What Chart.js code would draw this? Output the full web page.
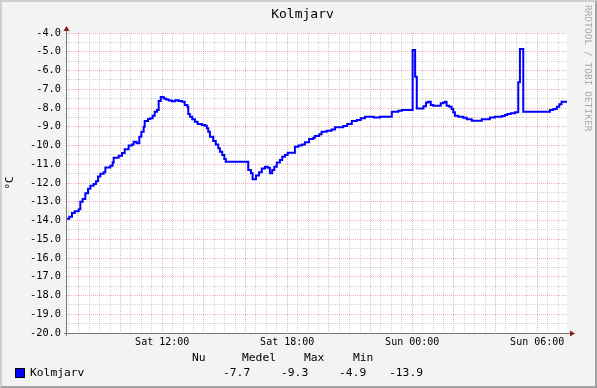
<!DOCTYPE html>
<html>
<head>
<meta charset="utf-8">
<script src="https://cdn.jsdelivr.net/npm/chart.js@4.4.1/dist/chart.umd.min.js"></script>
<style>
  html, body { margin: 0; padding: 0; }
  #wrap {
    position: relative; width: 597px; height: 388px; box-sizing: border-box;
    background: #f3f3f3; font-family: "DejaVu Sans Mono", monospace; color: #000;
    border-top: 2px solid #cfcfcf; border-left: 2px solid #cfcfcf;
    border-right: 2px solid #a3a3a3; border-bottom: 2px solid #a3a3a3;
  }
  #temp-chart { position: absolute; left: -2px; top: -2px; }
  #title { position: absolute; left: 0; width: 601px; top: 4px; text-align: center; font-size: 13px; }
  #credit {
    position: absolute; left: 581px; top: 3px; writing-mode: vertical-rl;
    font-size: 9.4px; color: #a8a8a8; letter-spacing: 0.1px;
  }
  .txt { position: absolute; font-size: 11.3px; white-space: pre; line-height: 14px; }
  #swatch { position: absolute; left: 13px; top: 366px; width: 8px; height: 8px; background: #0000ff; border: 1px solid #000; }
</style>
</head>
<body>
<div id="wrap">
  <canvas id="temp-chart" width="597" height="388"></canvas>
  <div id="title">Kolmjarv</div>
  <div id="credit">RRDTOOL / TOBI OETIKER</div>
  <div id="swatch"></div>
  <div id="legend"></div>
</div>
<script>
// hours since Sat 00:00 -> temperature (°C)
const hours = [
  7.43, 7.54, 7.67, 7.80, 7.99, 8.07, 8.18, 8.31, 8.44, 8.55, 8.71, 8.82, 8.92, 9.03, 9.19, 9.27,
  9.51, 9.62, 9.67, 9.91, 10.07, 10.20, 10.39, 10.55, 10.63, 10.77, 10.90, 11.00, 11.11, 11.16, 11.32, 11.43,
  11.54, 11.64, 11.75, 11.83, 11.93, 12.07, 12.18, 12.31, 12.47, 12.63, 12.79, 12.95, 13.08, 13.21, 13.25, 13.33,
  13.44, 13.57, 13.70, 13.90, 14.05, 14.14, 14.21, 14.29, 14.45, 14.57, 14.69, 14.77, 14.88, 14.98, 15.05, 16.13,
  16.26, 16.34, 16.50, 16.65, 16.78, 16.93, 17.06, 17.17, 17.28, 17.38, 17.50, 17.65, 17.76, 17.89, 18.02, 18.37,
  18.53, 18.70, 18.85, 19.05, 19.25, 19.33, 19.54, 19.65, 19.89, 20.13, 20.29, 20.69, 20.88, 21.10, 21.34, 21.53,
  21.73, 22.16, 22.45, 23.02, 23.33, 23.50, 24.02, 24.14, 24.22, 24.54, 24.66, 24.77, 24.89, 25.01, 25.37, 25.49,
  25.57, 25.65, 25.78, 25.89, 25.97, 26.05, 26.21, 26.45, 26.62, 26.86, 27.34, 27.73, 27.97, 28.30, 28.45, 28.56,
  28.73, 28.93, 29.09, 29.17, 29.33, 30.61, 30.77, 30.94, 31.06, 31.17, 31.43
];
const temps = [
  -13.9, -13.8, -13.6, -13.5, -13.4, -13.0, -12.85, -12.55, -12.3, -12.15, -12.05, -11.9, -11.65, -11.5, -11.43, -11.17,
  -11.08, -10.9, -10.65, -10.55, -10.4, -10.2, -10.0, -9.94, -9.8, -9.88, -9.53, -9.26, -9.0, -8.69, -8.59, -8.55,
  -8.41, -8.2, -8.1, -7.63, -7.41, -7.49, -7.54, -7.6, -7.64, -7.59, -7.63, -7.66, -7.84, -7.93, -8.32, -8.46,
  -8.6, -8.73, -8.85, -8.9, -8.94, -9.08, -9.26, -9.53, -9.76, -9.94, -10.15, -10.33, -10.5, -10.72, -10.86, -11.3,
  -11.48, -11.8, -11.6, -11.43, -11.22, -11.13, -11.18, -11.48, -11.3, -11.13, -10.9, -10.77, -10.6, -10.5, -10.38, -10.06,
  -10.0, -9.94, -9.83, -9.65, -9.58, -9.49, -9.4, -9.26, -9.21, -9.14, -9.03, -8.96, -8.85, -8.69, -8.64, -8.55,
  -8.46, -8.5, -8.46, -8.2, -8.14, -8.1, -4.9, -6.33, -8.02, -7.9, -7.71, -7.66, -7.84, -7.88, -7.75, -7.7,
  -7.66, -7.88, -7.93, -8.05, -8.23, -8.41, -8.46, -8.52, -8.6, -8.68, -8.6, -8.5, -8.46, -8.43, -8.37, -8.32,
  -8.28, -8.23, -6.63, -4.85, -8.2, -8.1, -8.05, -7.93, -7.8, -7.66, -7.66
];

const timeTickValues = [12, 18, 24, 30];
const timeTickLabels = ["Sat 12:00", "Sat 18:00", "Sun 00:00", "Sun 06:00"];
const seriesName = "Kolmjarv";
const statLabels = ["Nu", "Medel", "Max", "Min"];
const statValues = [-7.7, -9.3, -4.9, -13.9];

const xMin = 7.43, xMax = 31.43;
const yMin = -20, yMax = -4;

const majorGrid = "rgba(230,130,130,0.6)";
const minorGrid = "rgba(195,195,195,0.75)";

// legend / stats text
const legend = document.getElementById("legend");
function addText(str, left, top) {
  const el = document.createElement("div");
  el.className = "txt";
  el.textContent = str;
  el.style.left = left + "px";
  el.style.top = top + "px";
  legend.appendChild(el);
}
addText(seriesName, 28, 364);
const headLeft = [190, 240, 302, 351];
const valueLeft = [221, 279, 337, 387];
statLabels.forEach((s, i) => addText(s, headLeft[i], 349));
statValues.forEach((v, i) => addText(v.toFixed(1), valueLeft[i], 364));

// axis lines with arrow heads, like rrdtool
const axisArrows = {
  id: "axisArrows",
  beforeDatasetsDraw(chart) {
    const { ctx, chartArea: a } = chart;
    ctx.save();
    ctx.strokeStyle = "#777";
    ctx.lineWidth = 1;
    ctx.beginPath();
    ctx.moveTo(a.left - 0.5, a.bottom + 3);
    ctx.lineTo(a.left - 0.5, a.top - 4);
    ctx.moveTo(a.left - 3, a.bottom + 0.5);
    ctx.lineTo(a.right + 3, a.bottom + 0.5);
    ctx.stroke();
    ctx.fillStyle = "#8b1a1a";
    ctx.beginPath();
    ctx.moveTo(a.left - 0.5, a.top - 7);
    ctx.lineTo(a.left - 3.5, a.top - 2);
    ctx.lineTo(a.left + 2.5, a.top - 2);
    ctx.closePath();
    ctx.fill();
    ctx.beginPath();
    ctx.moveTo(a.right + 8, a.bottom + 0.5);
    ctx.lineTo(a.right + 3, a.bottom - 2.5);
    ctx.lineTo(a.right + 3, a.bottom + 3.5);
    ctx.closePath();
    ctx.fill();
    ctx.restore();
  }
};

const plotBg = {
  id: "plotBg",
  beforeDraw(chart) {
    const { ctx, chartArea: a } = chart;
    ctx.save();
    ctx.fillStyle = "#fff";
    ctx.fillRect(a.left, a.top, a.right - a.left, a.bottom - a.top);
    ctx.restore();
  }
};

const tempChart = document.getElementById("temp-chart");

new Chart(tempChart, {
  type: "line",
  data: {
    datasets: [
      {
        label: seriesName,
        data: hours.map((h, i) => ({ x: h, y: temps[i] })),
        borderColor: "#0000ff",
        borderWidth: 2,
        pointRadius: 0,
        stepped: true,
        fill: false,
        tension: 0,
      },
    ],
  },
  options: {
    responsive: false,
    animation: false,
    events: [],
    layout: { padding: { top: 33, right: 30, bottom: 0, left: 0 } },
    plugins: { legend: { display: false }, title: { display: false }, tooltip: { enabled: false } },
    scales: {
      x: {
        type: "linear",
        min: xMin,
        max: xMax,
        afterFit: (s) => { s.height = 55; },
        afterBuildTicks: (s) => {
          const t = [];
          for (let v = 7.5; v <= 31.0; v += 0.5) t.push({ value: v });
          s.ticks = t;
        },
        ticks: {
          autoSkip: false,
          maxRotation: 0,
          padding: 3,
          color: "#000",
          font: { family: "DejaVu Sans Mono", size: 10 },
          callback: (v) => {
            const i = timeTickValues.indexOf(v);
            return i >= 0 ? timeTickLabels[i] : "";
          },
        },
        grid: {
          drawTicks: false,
          lineWidth: 1,
          color: (c) => (c.tick && c.tick.value % 2 === 0 ? majorGrid : minorGrid),
        },
        border: { display: false, dash: [1, 1] },
      },
      y: {
        min: yMin,
        max: yMax,
        afterFit: (s) => { s.width = 67; },
        afterBuildTicks: (s) => {
          const t = [];
          for (let v = yMin; v <= yMax; v += 0.5) t.push({ value: v });
          s.ticks = t;
        },
        title: {
          display: true,
          text: "°C",
          color: "#000",
          padding: 4,
          font: { family: "DejaVu Sans Mono", size: 11 },
        },
        ticks: {
          autoSkip: false,
          padding: 6,
          color: "#000",
          font: { family: "DejaVu Sans Mono", size: 10.3 },
          callback: (v) => (Number.isInteger(v) ? v.toFixed(1) : ""),
        },
        grid: {
          drawTicks: false,
          lineWidth: 1,
          color: (c) => (c.tick && Number.isInteger(c.tick.value) ? majorGrid : minorGrid),
        },
        border: { display: false, dash: [1, 1] },
      },
    },
  },
  plugins: [plotBg, axisArrows],
});
</script>
</body>
</html>
